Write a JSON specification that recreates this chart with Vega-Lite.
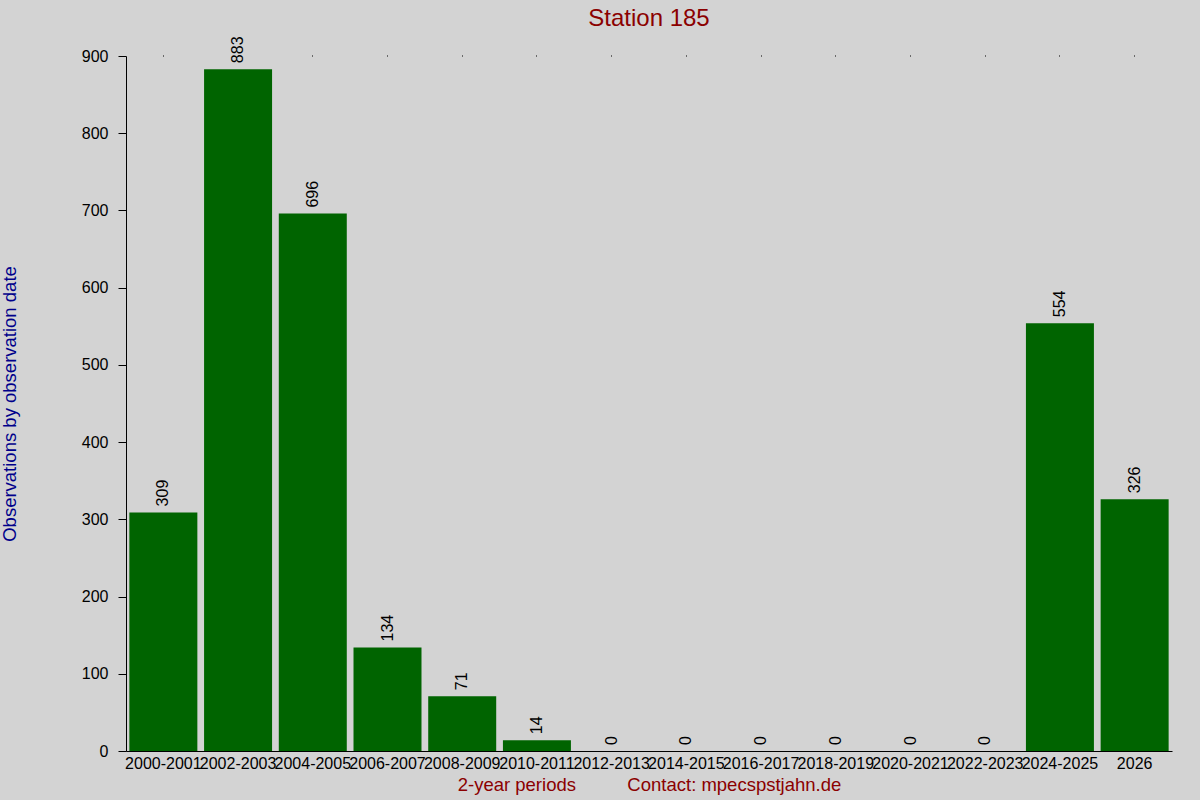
{
  "$schema": "https://vega.github.io/schema/vega-lite/v6.json",
  "width": 1046,
  "height": 695,
  "autosize": {"type": "none"},
  "padding": {"left": 126, "top": 56, "right": 28, "bottom": 49},
  "background": "#d3d3d3",
  "title": {
    "text": "Station 185",
    "fontSize": 24,
    "fontWeight": "normal",
    "color": "#8b0000",
    "anchor": "middle",
    "offset": 5
  },
  "data": {
    "values": [
      {"period": "2000-2001", "count": 309},
      {"period": "2002-2003", "count": 883},
      {"period": "2004-2005", "count": 696},
      {"period": "2006-2007", "count": 134},
      {"period": "2008-2009", "count": 71},
      {"period": "2010-2011", "count": 14},
      {"period": "2012-2013", "count": 0},
      {"period": "2014-2015", "count": 0},
      {"period": "2016-2017", "count": 0},
      {"period": "2018-2019", "count": 0},
      {"period": "2020-2021", "count": 0},
      {"period": "2022-2023", "count": 0},
      {"period": "2024-2025", "count": 554},
      {"period": "2026", "count": 326}
    ]
  },
  "encoding": {
    "x": {
      "field": "period",
      "type": "nominal",
      "sort": null,
      "scale": {"paddingInner": 0.09, "paddingOuter": 0.045},
      "axis": {
        "title": "2-year periods\u00a0\u00a0\u00a0\u00a0\u00a0\u00a0\u00a0\u00a0\u00a0\u00a0Contact: mpecspstjahn.de",
        "titleColor": "#8b0000",
        "titleFontSize": 18.5,
        "titleFontWeight": "normal",
        "titlePadding": 4,
        "labelAngle": 0,
        "labelFontSize": 16,
        "labelColor": "black",
        "labelPadding": 4,
        "labelOverlap": false,
        "labelBound": false,
        "ticks": false,
        "domainColor": "black"
      }
    },
    "y": {
      "field": "count",
      "type": "quantitative",
      "scale": {"domain": [0, 900], "nice": false},
      "axis": {
        "title": "Observations by observation date",
        "titleColor": "#00008b",
        "titleFontSize": 18.5,
        "titleFontWeight": "normal",
        "titlePadding": 62,
        "values": [0, 100, 200, 300, 400, 500, 600, 700, 800, 900],
        "labelFontSize": 16,
        "labelColor": "black",
        "labelPadding": 10,
        "tickSize": 8,
        "tickColor": "black",
        "domainColor": "black",
        "grid": false
      }
    }
  },
  "layer": [
    {
      "mark": {"type": "bar", "color": "#006400"}
    },
    {
      "mark": {
        "type": "text",
        "angle": -90,
        "align": "left",
        "baseline": "middle",
        "dx": 6,
        "fontSize": 16,
        "color": "black"
      },
      "encoding": {
        "text": {"field": "count", "type": "quantitative"},
        "x": {
          "field": "period",
          "type": "nominal",
          "sort": null,
          "axis": {
            "orient": "top",
            "title": null,
            "labels": false,
            "domain": false,
            "ticks": true,
            "tickSize": 1,
            "tickColor": "black"
          }
        }
      }
    }
  ],
  "resolve": {"axis": {"x": "independent"}},
  "config": {
    "font": "Liberation Sans",
    "view": {"stroke": null},
    "axis": {"grid": false}
  }
}
